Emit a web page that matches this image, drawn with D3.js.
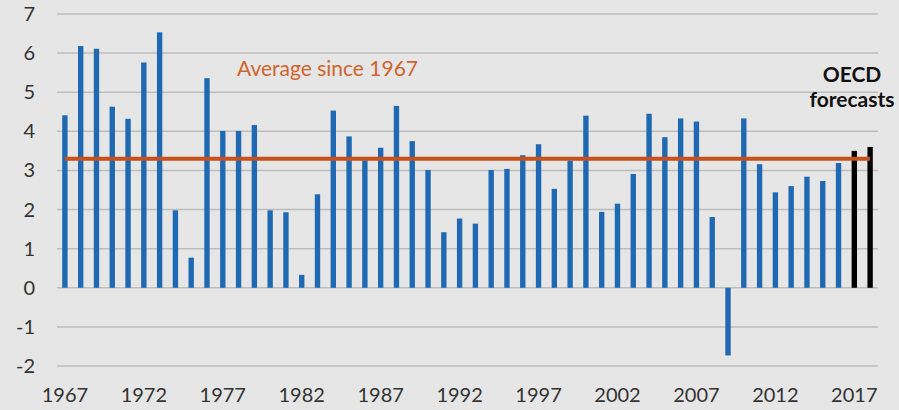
<!DOCTYPE html>
<html>
<head>
<meta charset="utf-8">
<script src="https://cdn.jsdelivr.net/npm/d3@7"></script>
<style>
  body { margin: 0; background: #e6e6e6; }
  svg { display: block; }
  text { font-family: Lato, "Open Sans", sans-serif; }
</style>
</head>
<body>
<div class="viz"></div>
<script>
const years = d3.range(1967, 2019);
const growth = [
  4.41, 6.18, 6.11, 4.63, 4.32, 5.76, 6.53, 1.98, 0.77, 5.36,
  4.01, 4.01, 4.16, 1.98, 1.93, 0.33, 2.39, 4.53, 3.87, 3.26,
  3.58, 4.65, 3.75, 3.01, 1.42, 1.77, 1.64, 3.01, 3.04, 3.39,
  3.67, 2.53, 3.25, 4.40, 1.94, 2.15, 2.91, 4.45, 3.85, 4.33,
  4.25, 1.81, -1.73, 4.33, 3.16, 2.44, 2.60, 2.84, 2.73, 3.19,
  3.50, 3.60
];
const forecastYears = [2017, 2018];
const average = 3.30;
const yTicks = [-2, -1, 0, 1, 2, 3, 4, 5, 6, 7];
const xTicks = [1967, 1972, 1977, 1982, 1987, 1992, 1997, 2002, 2007, 2012, 2017];

const W = 899, H = 410;
const margin = { top: 14, bottom: 44, left: 57, right: 21 };

const svg = d3.select('.viz')
    .append('svg')
    .attr('width', W)
    .attr('height', H);

svg.append('rect')
    .attr('width', W)
    .attr('height', H)
    .attr('fill', '#e6e6e6');

const x = d3.scaleBand()
    .domain(years)
    .range([margin.left, W - margin.right])
    .paddingInner(0.66)
    .paddingOuter(0.33);

const y = d3.scaleLinear()
    .domain([-2, 7])
    .range([H - margin.bottom, margin.top]);

// gridlines
svg.append('g')
    .selectAll('line')
    .data(yTicks)
    .enter()
    .append('line')
    .attr('x1', margin.left)
    .attr('x2', W - margin.right)
    .attr('y1', d => y(d))
    .attr('y2', d => y(d))
    .attr('stroke', '#bdbdbd')
    .attr('stroke-width', 1.5);

// y labels
svg.append('g')
    .selectAll('text')
    .data(yTicks)
    .enter()
    .append('text')
    .attr('x', 35)
    .attr('y', d => y(d))
    .attr('dy', '0.35em')
    .attr('text-anchor', 'end')
    .attr('font-size', 20)
    .attr('fill', '#333')
    .text(d => d);

// x labels
svg.append('g')
    .selectAll('text')
    .data(xTicks)
    .enter()
    .append('text')
    .attr('x', d => x(d) + x.bandwidth() / 2)
    .attr('y', 402)
    .attr('text-anchor', 'middle')
    .attr('font-size', 20)
    .attr('fill', '#333')
    .text(d => d);

// bars
svg.append('g')
    .selectAll('rect')
    .data(years.map((yr, i) => ({ year: yr, value: growth[i] })))
    .enter()
    .append('rect')
    .attr('x', d => x(d.year))
    .attr('width', x.bandwidth())
    .attr('y', d => y(Math.max(0, d.value)))
    .attr('height', d => Math.abs(y(d.value) - y(0)))
    .attr('fill', d => forecastYears.includes(d.year) ? '#000' : '#1f69b3');

// average line
svg.append('line')
    .attr('x1', x(years[0]) + x.bandwidth() / 2)
    .attr('x2', x(years[years.length - 1]) + x.bandwidth() / 2)
    .attr('y1', y(average))
    .attr('y2', y(average))
    .attr('stroke', '#c8501a')
    .attr('stroke-width', 4);

svg.append('text')
    .attr('x', 237)
    .attr('y', 76)
    .attr('font-size', 21)
    .attr('fill', '#d0642a')
    .text('Average since 1967');

svg.append('text')
    .attr('x', 852)
    .attr('y', 82)
    .attr('text-anchor', 'middle')
    .attr('font-size', 21)
    .attr('font-weight', 'bold')
    .attr('fill', '#111')
    .text('OECD');

svg.append('text')
    .attr('x', 852)
    .attr('y', 107)
    .attr('text-anchor', 'middle')
    .attr('font-size', 21)
    .attr('font-weight', 'bold')
    .attr('fill', '#111')
    .text('forecasts');
</script>
</body>
</html>
